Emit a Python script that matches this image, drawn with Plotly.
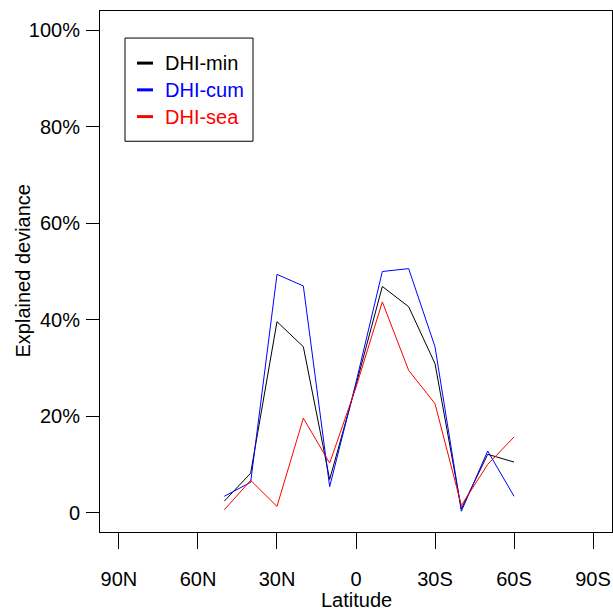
import plotly.graph_objects as go

# Latitude (negative = North, positive = South)
latitude = [-50, -40, -30, -20, -10, 0, 10, 20, 30, 40, 50, 60]
dhi_min = [0.024, 0.082, 0.396, 0.344, 0.069, 0.265, 0.469, 0.427, 0.309, 0.008, 0.121, 0.105]
dhi_cum = [0.034, 0.063, 0.494, 0.470, 0.054, 0.270, 0.500, 0.506, 0.344, 0.003, 0.128, 0.034]
dhi_sea = [0.006, 0.067, 0.013, 0.196, 0.103, 0.260, 0.437, 0.295, 0.226, 0.015, 0.100, 0.157]

series_names = ["DHI-min", "DHI-cum", "DHI-sea"]
series_colors = ["#000000", "#0000FF", "#FF0000"]

x_tickvals = [-90, -60, -30, 0, 30, 60, 90]
x_ticktext = ["90N", "60N", "30N", "0", "30S", "60S", "90S"]
y_tickvals = [0, 0.2, 0.4, 0.6, 0.8, 1.0]
y_ticktext = ["0", "20%", "40%", "60%", "80%", "100%"]

FONT = "Liberation Sans, Arial, sans-serif"

fig = go.Figure()
for name, vals, col in zip(series_names, [dhi_min, dhi_cum, dhi_sea], series_colors):
    fig.add_trace(go.Scatter(x=latitude, y=vals, mode="lines", name=name,
                             line=dict(color=col, width=1), showlegend=False))

# manual R-style legend
shapes = [dict(type="rect", xref="paper", yref="paper",
               x0=(125 - 100) / 512, x1=(253 - 100) / 512,
               y0=(531 - 141) / 520, y1=(531 - 38) / 520,
               line=dict(color="black", width=1), fillcolor="white")]
annotations = []
for i, (name, col) in enumerate(zip(series_names, series_colors)):
    ypx = 63 + i * 26.7
    yp = (531 - ypx) / 520
    shapes.append(dict(type="line", xref="paper", yref="paper",
                       x0=(137 - 100) / 512, x1=(153 - 100) / 512, y0=yp, y1=yp,
                       line=dict(color=col, width=3)))
    annotations.append(dict(xref="paper", yref="paper", x=(163 - 100) / 512, y=yp,
                            text=name, showarrow=False, xanchor="left", yanchor="middle",
                            font=dict(family=FONT, size=20, color=col)))

annotations.append(dict(xref="paper", yref="paper", x=(356 - 100) / 512, y=(531 - 599) / 520,
                        text="Latitude", showarrow=False, xanchor="center", yanchor="middle",
                        font=dict(family=FONT, size=20, color="black")))
annotations.append(dict(xref="paper", yref="paper", x=(22 - 100) / 512, y=0.5,
                        text="Explained deviance", showarrow=False, textangle=-90,
                        xanchor="center", yanchor="middle",
                        font=dict(family=FONT, size=20, color="black")))

fig.update_layout(
    width=613, height=612,
    margin=dict(l=100, r=1, t=11, b=80, autoexpand=False),
    paper_bgcolor="white", plot_bgcolor="white",
    font=dict(family=FONT, size=20, color="black"),
    shapes=shapes, annotations=annotations,
    xaxis=dict(range=[-97.2, 97.2], tickvals=x_tickvals, ticktext=x_ticktext,
               showgrid=False, zeroline=False, showline=True, mirror=True,
               linecolor="black", linewidth=1, ticks="outside", ticklen=16,
               tickcolor="black", tickwidth=1, ticklabelstandoff=13, automargin=False),
    yaxis=dict(range=[-0.04, 1.04], tickvals=y_tickvals, ticktext=y_ticktext,
               showgrid=False, zeroline=False, showline=True, mirror=True,
               linecolor="black", linewidth=1, ticks="outside", ticklen=13,
               tickcolor="black", tickwidth=1, ticklabelstandoff=2, automargin=False),
)

fig.write_html("out.html", config={"displayModeBar": False},
               post_script="document.body.style.margin='0';document.body.style.overflow='hidden';")
